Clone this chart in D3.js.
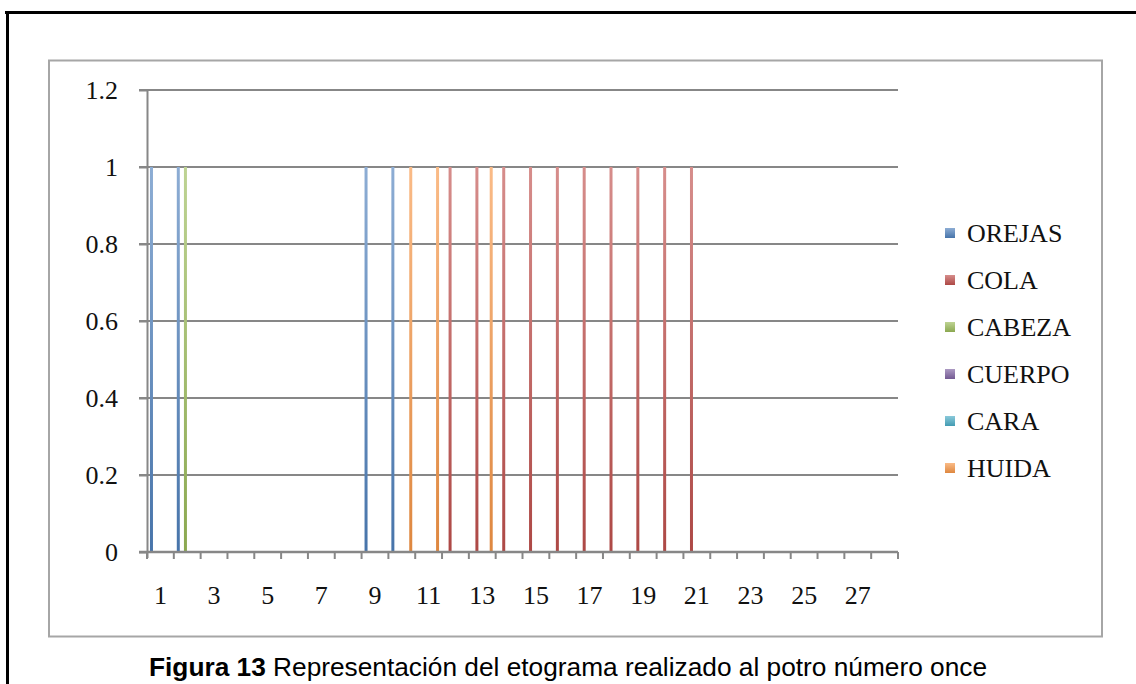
<!DOCTYPE html>
<html>
<head>
<meta charset="utf-8">
<script src="https://cdn.jsdelivr.net/npm/d3@7"></script>
<style>
  html, body { margin: 0; padding: 0; background: #ffffff; }
  svg { display: block; }
</style>
</head>
<body>
<svg id="chart" width="1136" height="684"></svg>
<script>
// ---- data ----
const categories = d3.range(1, 29);           // 1..28
const tickLabels = d3.range(1, 29, 2);        // 1,3,...,27
const seriesNames = ["OREJAS", "COLA", "CABEZA", "CUERPO", "CARA", "HUIDA"];
const seriesColors = ["#4F81BD", "#C0504D", "#9BBB59", "#8064A2", "#4BACC6", "#F79646"];
const orejas = [1,1,0,0,0,0,0,0,1,1,0,0,0,0,0,0,0,0,0,0,0,0,0,0,0,0,0,0];
const cola   = [0,0,0,0,0,0,0,0,0,0,0,1,1,1,1,1,1,1,1,1,1,0,0,0,0,0,0,0];
const cabeza = [0,1,0,0,0,0,0,0,0,0,0,0,0,0,0,0,0,0,0,0,0,0,0,0,0,0,0,0];
const cuerpo = [0,0,0,0,0,0,0,0,0,0,0,0,0,0,0,0,0,0,0,0,0,0,0,0,0,0,0,0];
const cara   = [0,0,0,0,0,0,0,0,0,0,0,0,0,0,0,0,0,0,0,0,0,0,0,0,0,0,0,0];
const huida  = [0,0,0,0,0,0,0,0,0,1,1,0,1,0,0,0,0,0,0,0,0,0,0,0,0,0,0,0];
const yTicks = [0, 0.2, 0.4, 0.6, 0.8, 1, 1.2];
const caption = ["Figura 13", " Representación del etograma realizado al potro número once"];

const seriesValues = [orejas, cola, cabeza, cuerpo, cara, huida];

// ---- layout ----
const svg = d3.select("#chart");
const plot = { left: 147, right: 898, top: 90, bottom: 552 };
const serif = "'Liberation Serif', 'Times New Roman', serif";
const gridColor = "#878787";

// outer black frame (top + left)
svg.append("line").attr("x1", 5).attr("x2", 1136).attr("y1", 12.5).attr("y2", 12.5)
  .attr("stroke", "#000").attr("stroke-width", 3);
svg.append("line").attr("x1", 7.5).attr("x2", 7.5).attr("y1", 11).attr("y2", 684)
  .attr("stroke", "#000").attr("stroke-width", 3);

// chart area border
svg.append("rect").attr("x", 49).attr("y", 60.5).attr("width", 1053).attr("height", 576)
  .attr("fill", "#fff").attr("stroke", "#a6a6a6").attr("stroke-width", 2);

// gradients
const defs = svg.append("defs");
seriesColors.forEach((c, i) => {
  const g = defs.append("linearGradient").attr("id", "grad" + i)
    .attr("x1", 0).attr("y1", 0).attr("x2", 0).attr("y2", 1);
  g.append("stop").attr("offset", "0%").attr("stop-color", d3.interpolateRgb(c, "#fff")(0.35));
  g.append("stop").attr("offset", "100%").attr("stop-color", d3.color(c).darker(0.3));
});

// scales
const x = d3.scaleBand().domain(categories).range([plot.left, plot.right]).padding(0);
const bw = x.bandwidth();
const xs = d3.scaleBand().domain(d3.range(seriesNames.length))
  .range([bw * 0.1, bw * 0.9]).padding(0);
const y = d3.scaleLinear().domain([0, 1.2]).range([plot.bottom, plot.top]);

// gridlines
svg.append("g").selectAll("line").data(yTicks.filter(t => t > 0)).join("line")
  .attr("x1", plot.left - 8).attr("x2", plot.right)
  .attr("y1", d => y(d)).attr("y2", d => y(d))
  .attr("stroke", gridColor).attr("stroke-width", 2);

// bars
const barW = 3;
seriesValues.forEach((vals, si) => {
  svg.append("g").selectAll("rect")
    .data(categories.map((c, i) => ({ c, v: vals[i] })).filter(d => d.v > 0))
    .join("rect")
    .attr("x", d => x(d.c) + xs(si) + (xs.bandwidth() - barW) / 2)
    .attr("y", d => y(d.v))
    .attr("width", barW)
    .attr("height", d => y(0) - y(d.v))
    .attr("fill", "url(#grad" + si + ")");
});

// y axis
const yAxis = svg.append("g").attr("transform", `translate(${plot.left},0)`)
  .call(d3.axisLeft(y).tickValues(yTicks).tickSize(8).tickPadding(21)
    .tickFormat(d => d === 0 ? "0" : d3.format("")(+d.toFixed(1))));
yAxis.select(".domain").attr("stroke", gridColor).attr("stroke-width", 2)
  .attr("d", `M0.5,${plot.top}V${plot.bottom + 6}`);
yAxis.selectAll(".tick line").attr("stroke", gridColor).attr("stroke-width", 2);
yAxis.selectAll(".tick text").attr("font-family", serif).attr("font-size", 26)
  .attr("fill", "#111").attr("dy", "0.33em");

// x axis
const xAxis = svg.append("g").attr("transform", `translate(0,${plot.bottom})`);
xAxis.append("line").attr("x1", plot.left - 8).attr("x2", plot.right)
  .attr("y1", 0).attr("y2", 0).attr("stroke", gridColor).attr("stroke-width", 2.5);
const boundaries = categories.map(c => x(c)).concat([plot.right]);
xAxis.selectAll("line.tk").data(boundaries).join("line").attr("class", "tk")
  .attr("x1", d => d).attr("x2", d => d).attr("y1", 0).attr("y2", 7)
  .attr("stroke", gridColor).attr("stroke-width", 2);
xAxis.selectAll("text").data(tickLabels).join("text")
  .attr("x", d => x(d) + bw / 2).attr("y", 52)
  .attr("text-anchor", "middle").attr("font-family", serif).attr("font-size", 26)
  .attr("fill", "#111").text(d => d);

// legend
const legend = svg.append("g").attr("transform", "translate(945,233)");
seriesNames.forEach((n, i) => {
  const g = legend.append("g").attr("transform", `translate(0,${i * 47})`);
  g.append("rect").attr("x", 0).attr("y", -5).attr("width", 10).attr("height", 10)
    .attr("fill", "url(#grad" + i + ")");
  g.append("text").attr("x", 22).attr("y", 9).attr("font-family", serif)
    .attr("font-size", 26).attr("fill", "#111").text(n);
});

// caption
const cap = svg.append("text").attr("x", 568).attr("y", 676).attr("text-anchor", "middle")
  .attr("font-family", "'Liberation Sans', Arial, sans-serif").attr("font-size", 25)
  .attr("fill", "#000").attr("textLength", 838).attr("lengthAdjust", "spacingAndGlyphs");
cap.append("tspan").attr("font-weight", "bold").text(caption[0]);
cap.append("tspan").text(caption[1]);
</script>
</body>
</html>
